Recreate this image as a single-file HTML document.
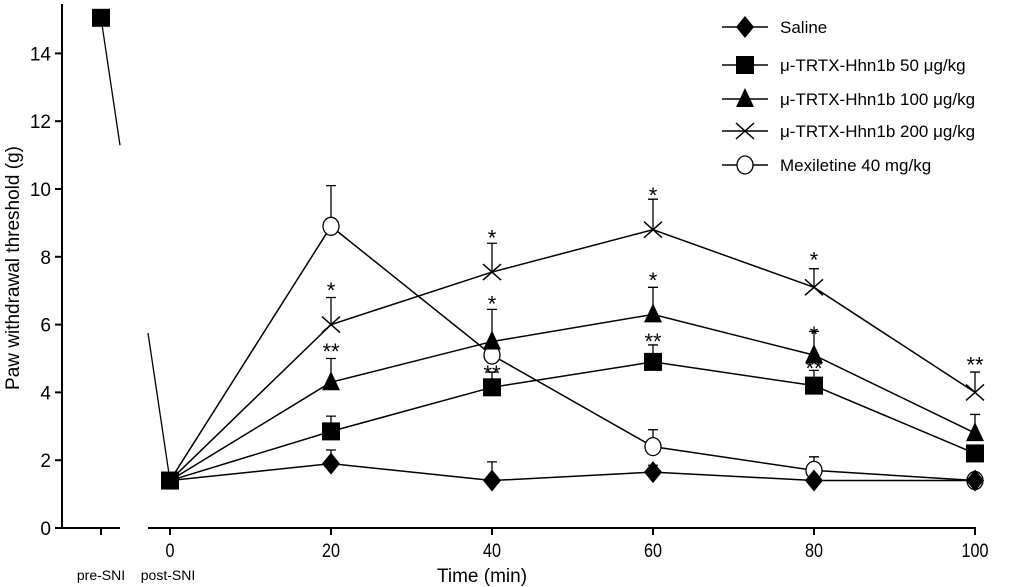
<!DOCTYPE html>
<html><head><meta charset="utf-8"><style>
body{margin:0;background:#fff;}
svg{display:block;font-family:"Liberation Sans",Arial,sans-serif;}
</style></head><body>
<svg id="c" width="1024" height="587" viewBox="0 0 1024 587">
<g id="axes"></g>
<g id="plot"></g>
<g id="legend"></g>
</svg>
<script>
const times=[0,20,40,60,80,100];
const yTicks=[0,2,4,6,8,10,12,14];
const xTicks=[0,20,40,60,80,100];
const preSNI=15.05;
const saline=[1.4,1.9,1.4,1.65,1.4,1.4];
const salineErr=[0,0.4,0.55,0.2,0,0];
const hhn50=[1.4,2.85,4.15,4.9,4.2,2.2];
const hhn50Err=[0,0.45,0.45,0.5,0.45,0];
const hhn100=[1.4,4.3,5.5,6.3,5.1,2.8];
const hhn100Err=[0,0.7,0.95,0.8,0.7,0.55];
const hhn200=[1.4,6.0,7.55,8.8,7.1,4.0];
const hhn200Err=[0,0.8,0.85,0.9,0.55,0.6];
const mex=[1.4,8.9,5.1,2.4,1.7,1.4];
const mexErr=[0,1.2,0,0.5,0.4,0];
const stars=[
 {t:20,v:6.9,s:"*"},{t:20,v:5.1,s:"**"},
 {t:40,v:8.45,s:"*"},{t:40,v:6.5,s:"*"},{t:40,v:4.45,s:"**"},
 {t:60,v:9.7,s:"*"},{t:60,v:7.2,s:"*"},{t:60,v:5.4,s:"**"},
 {t:80,v:7.8,s:"*"},{t:80,v:5.6,s:"*"},{t:80,v:4.6,s:"**"},
 {t:100,v:4.7,s:"**"}];
const NS="http://www.w3.org/2000/svg";
const X=t=>170+t*8.05, Y=v=>528-v*33.9, preX=101;
function mk(tag,attrs,parent,text){const e=document.createElementNS(NS,tag);for(const k in attrs)e.setAttribute(k,attrs[k]);if(text!==undefined)e.textContent=text;parent.appendChild(e);return e;}
const ax=document.getElementById('axes'),pl=document.getElementById('plot'),lg=document.getElementById('legend');
let e;
e=mk('line',{x1:62,y1:4,x2:62,y2:529,stroke:'#000','stroke-width':2},ax);

e=mk('line',{x1:61,y1:528,x2:120,y2:528,stroke:'#000','stroke-width':2},ax);

mk('line',{x1:preX,y1:528,x2:preX,y2:535,stroke:'#000','stroke-width':2},ax);
e=mk('line',{x1:148,y1:528,x2:976,y2:528,stroke:'#000','stroke-width':2},ax);

yTicks.forEach(v=>{mk('line',{x1:55,y1:Y(v),x2:62,y2:Y(v),stroke:'#000','stroke-width':2},ax);
 e=mk('text',{x:51,y:Y(v)+7,'text-anchor':'end','font-size':19},ax,v);
 });
xTicks.forEach(t=>{mk('line',{x1:X(t),y1:528,x2:X(t),y2:535,stroke:'#000','stroke-width':2},ax);
 e=mk('text',{x:X(t),y:557,'text-anchor':'middle','font-size':19,transform:`translate(${X(t)},0) scale(0.85,1) translate(${-X(t)},0)`},ax,t);
 });
e=mk('text',{x:preX,y:580,'text-anchor':'middle','font-size':14},ax,'pre-SNI');
e=mk('text',{x:168,y:580,'text-anchor':'middle','font-size':14},ax,'post-SNI');
e=mk('text',{x:482,y:582,'text-anchor':'middle','font-size':19},ax,'Time (min)');
e=mk('text',{x:0,y:0,'text-anchor':'middle','font-size':19,transform:'translate(19,268) rotate(-90)'},ax,'Paw withdrawal threshold (g)');
// break line pre -> post
const yAt=x=>Y(preSNI)+(Y(1.4)-Y(preSNI))*(x-preX)/(X(0)-preX);
mk('line',{x1:preX,y1:Y(preSNI),x2:120,y2:yAt(120),stroke:'#000','stroke-width':1.3},pl);
mk('line',{x1:148,y1:yAt(148),x2:X(0),y2:Y(1.4),stroke:'#000','stroke-width':1.3},pl);
function marker(type,x,y,g){
 if(type==='diamond')return mk('polygon',{points:`${x},${y-11} ${x+9},${y} ${x},${y+11} ${x-9},${y}`,fill:'#000'},g);
 if(type==='square')return mk('rect',{x:x-9,y:y-9,width:18,height:18,fill:'#000'},g);
 if(type==='triangle')return mk('polygon',{points:`${x},${y-11} ${x+9},${y+8} ${x-9},${y+8}`,fill:'#000'},g);
 if(type==='cross'){const p=mk('path',{d:`M${x-9},${y-8}L${x+9},${y+8}M${x-9},${y+8}L${x+9},${y-8}`,stroke:'#000','stroke-width':1.5,fill:'none'},g);return p;}
 return mk('ellipse',{cx:x,cy:y,rx:8,ry:9,fill:'#fff',stroke:'#000','stroke-width':1.3},g);
}
const series=[
 {name:'saline',vals:saline,err:salineErr,m:'diamond'},
 {name:'hhn1b-50',vals:hhn50,err:hhn50Err,m:'square'},
 {name:'hhn1b-100',vals:hhn100,err:hhn100Err,m:'triangle'},
 {name:'hhn1b-200',vals:hhn200,err:hhn200Err,m:'cross'},
 {name:'mexiletine',vals:mex,err:mexErr,m:'circle'}];
series.slice().reverse().forEach(s=>{
 const g=mk('g',{},pl);
 
 const ln=mk('polyline',{points:times.map((t,i)=>X(t)+','+Y(s.vals[i])).join(' '),fill:'none',stroke:'#000','stroke-width':1.5},g);
 
 times.forEach((t,i)=>{if(s.err[i]>0){const x=X(t),y1=Y(s.vals[i]),y2=Y(s.vals[i]+s.err[i]);
  const eb=mk('path',{d:`M${x},${y1}L${x},${y2}M${x-5},${y2}L${x+5},${y2}`,stroke:'#000','stroke-width':1.3,fill:'none'},g);
  }});
 times.forEach((t,i)=>{if(i===0)return;const p=marker(s.m,X(t),Y(s.vals[i]),g);
  });
});
let p=marker('square',X(0),Y(1.4),pl);
p=marker('square',preX,Y(preSNI),pl);
stars.forEach(s=>{const t=mk('text',{x:X(s.t),y:Y(s.v)+4,'text-anchor':'middle','font-size':22},pl,s.s);
 });
const legendLabels=['Saline','\u03bc-TRTX-Hhn1b 50 \u03bcg/kg','\u03bc-TRTX-Hhn1b 100 \u03bcg/kg','\u03bc-TRTX-Hhn1b 200 \u03bcg/kg','Mexiletine 40 mg/kg'];
const legendY=[27,65,99,131,165];
series.forEach((s,i)=>{const g=mk('g',{},lg);
 
 mk('line',{x1:722,y1:legendY[i],x2:768,y2:legendY[i],stroke:'#000','stroke-width':1.5},g);
 marker(s.m,745,legendY[i],g);
 mk('text',{x:780,y:legendY[i]+6,'font-size':17},g,legendLabels[i]);});
</script>
</body></html>
